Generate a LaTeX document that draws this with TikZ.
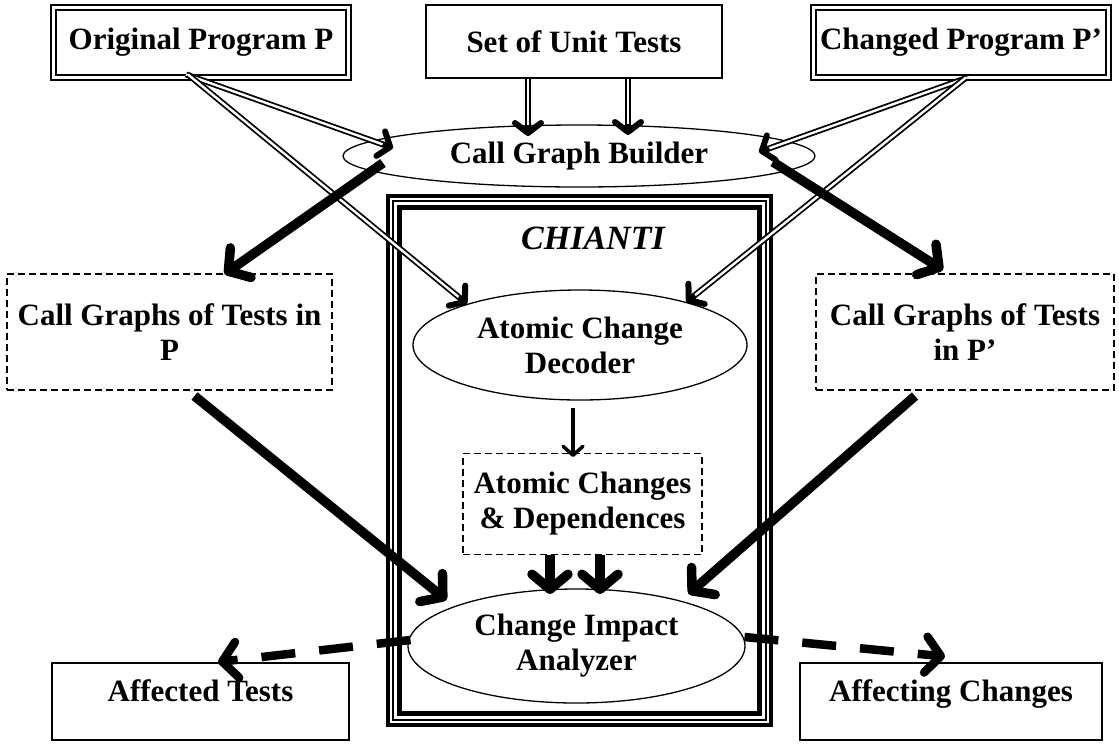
\documentclass[tikz,border=0pt]{standalone}
\usepackage{fontspec}
\setmainfont{Liberation Serif}
\usetikzlibrary{arrows.meta,shapes.geometric,calc}
\tikzset{
  lbl/.style={font=\fontsize{31}{35}\selectfont\bfseries, align=center},
  plainbox/.style={lbl, draw, line width=1.5},
  twobox/.style={lbl, draw, double, line width=2.2, double distance=2.4},
  dashbox/.style={lbl, draw, line width=1.4, dash pattern=on 7 off 4},
  oval/.style={lbl, draw, ellipse, line width=1.3, inner sep=0},
  fat/.style={line width=9.5, -{Straight Barb[round, length=15, width=36]}},
  mid/.style={line width=3.5, -{Straight Barb[round, length=9, width=20]}},
  dbl/.style={line width=6, -{Straight Barb[round, length=10, width=26]},
    postaction={draw=white, -, line width=2.4, shorten >=11}},
  fatdash/.style={fat, line width=8.5, dash pattern=on 34 off 24},
}
\begin{document}
\begin{tikzpicture}[x=1pt,y=-1pt]
\useasboundingbox (0,0) rectangle (1119,748);
% inputs
\node[twobox, minimum width=295, minimum height=70] (origp) at (201,42.5) {Original Program P};
\node[plainbox, minimum width=296, minimum height=73] (unit) at (574,41.5) {Set of Unit Tests};
\node[twobox, minimum width=295, minimum height=70] (chgp) at (961,42.5) {Changed Program P’};
\node[oval, minimum width=472, minimum height=62] (cgb) at (579,156) {Call Graph Builder};
% the tool
\node[draw, line width=4, minimum width=383, minimum height=529] (frame) at (579.5,460.5) {};
\node[draw, line width=1.8, minimum width=373, minimum height=519] (frameb) at (frame) {};
\node[draw, line width=4.5, minimum width=360, minimum height=506] (framec) at (frame) {};
\node[lbl, font=\fontsize{34}{35}\selectfont\bfseries\itshape] (chi) at (593,238) {CHIANTI};
\node[oval, minimum width=334, minimum height=110] (acd) at (580,345) {Atomic Change\\Decoder};
\node[dashbox, minimum width=239, minimum height=101] (dep) at (582.5,504) {Atomic Changes\\\& Dependences};
\node[oval, minimum width=337, minimum height=114] (cia) at (576.5,646) {Change Impact\\Analyzer};
% call graphs and results
\node[dashbox, minimum width=325, minimum height=116] (cgp) at (169.5,332) {Call Graphs of Tests in\\P};
\node[dashbox, minimum width=298, minimum height=116] (cgpp) at (965,332) {Call Graphs of Tests\\in P’};
\node[plainbox, minimum width=297, minimum height=77, text height=20, text depth=20] (aft) at (200.5,701.5) {Affected Tests};
\node[plainbox, minimum width=302, minimum height=77, text height=20, text depth=20] (afc) at (951,701.5) {Affecting Changes};
% arrows
\draw[dbl] ($(origp.center)+(-15,32)$) -- ($(cgb.center)+(-186,-8)$);
\draw[dbl] ($(origp.center)+(-13,32)$) -- (acd.160);
\draw[dbl] ($(chgp.center)+(7,35)$) -- ($(cgb.center)+(180,-4)$);
\draw[dbl] ($(chgp.center)+(5,35)$) -- (acd.22);
\draw[dbl] ($(unit.center)+(-46,37)$) -- ($(cgb.center)+(-51,-20)$);
\draw[dbl] ($(unit.center)+(54,37)$) -- ($(cgb.center)+(49,-21)$);
\draw[fat] ($(cgb.center)+(-196,7)$) -- ($(cgp.center)+(55,-58)$);
\draw[fat] ($(cgb.center)+(194,6)$) -- ($(cgpp.center)+(-22,-62)$);
\draw[fat] ($(cgp.center)+(25,64)$) -- ($(cia.center)+(-130,-46)$);
\draw[fat] ($(cgpp.center)+(-50,64)$) -- ($(cia.center)+(112,-52)$);
\draw[mid] ($(acd.center)+(-7,63)$) -- ($(dep.center)+(-9.5,-47)$);
\draw[fat] ($(dep.center)+(-32.5,51)$) -- ($(cia.center)+(-26.5,-52)$);
\draw[fat] ($(dep.center)+(17.5,51)$) -- ($(cia.center)+(23.5,-52)$);
\draw[fatdash] ($(cia.center)+(-166,-6)$) -- ($(aft.center)+(17.5,-39.5)$);
\draw[fatdash] ($(cia.center)+(168,-9)$) -- ($(afc.center)+(-6,-45)$);
\end{tikzpicture}
\end{document}
